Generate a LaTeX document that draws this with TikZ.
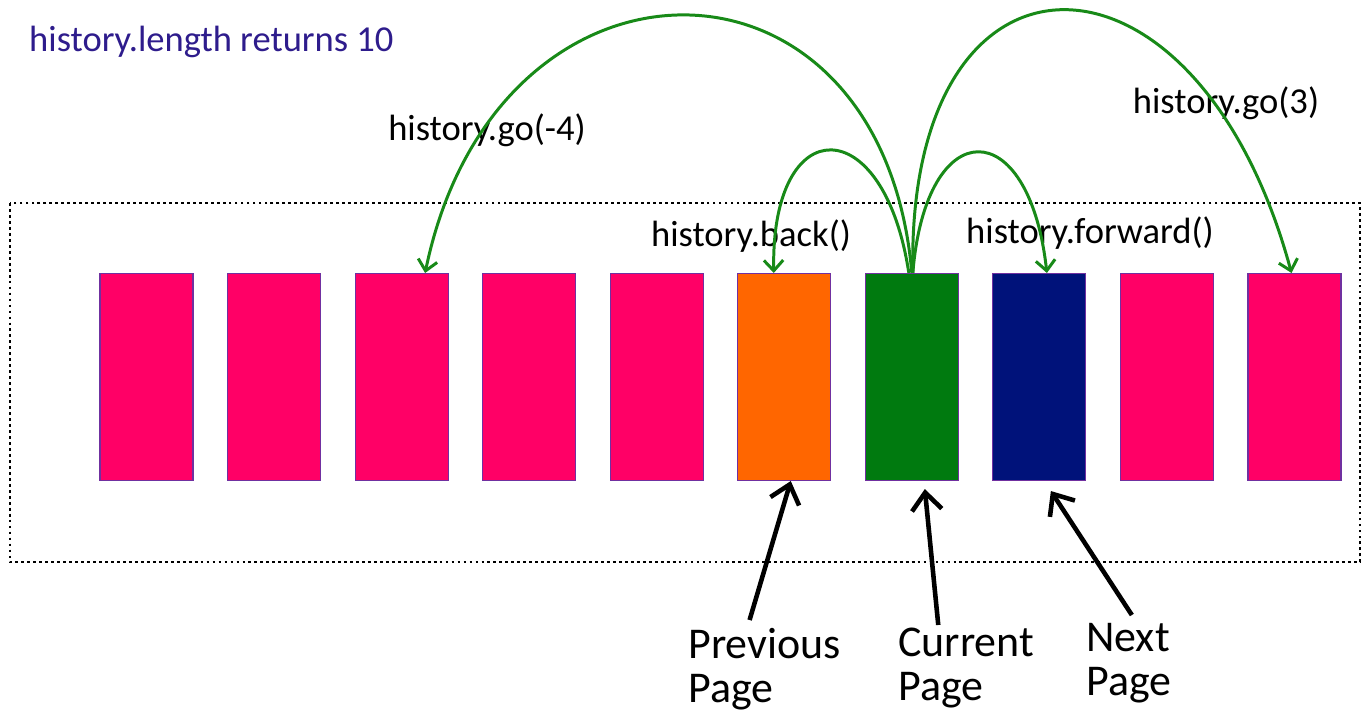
\documentclass[tikz,border=0pt]{standalone}
\usepackage{fontspec}
\setmainfont{Carlito}
\usetikzlibrary{arrows.meta, positioning}

\definecolor{pagepink}{RGB}{255,0,102}
\definecolor{pageprev}{RGB}{255,102,0}
\definecolor{pagecur}{RGB}{0,122,15}
\definecolor{pagenext}{RGB}{0,18,122}
\definecolor{pageedge}{RGB}{112,48,160}
\definecolor{jumpgreen}{RGB}{24,138,24}
\definecolor{titleblue}{RGB}{46,28,140}

\begin{document}
\begin{tikzpicture}[
    font=\fontsize{20.8}{24}\selectfont,
    page/.style={draw=pageedge, line width=0.6pt, minimum width=1.86cm, minimum height=4.14cm, inner sep=0pt},
    jump/.style={jumpgreen, line width=1.7pt, -{Straight Barb[length=6pt,width=11pt]}},
    pointer/.style={black, line width=2.6pt, -{Straight Barb[length=10pt,width=17pt]}},
    caption/.style={font=\fontsize{25}{25}\selectfont, align=left, inner sep=0pt, anchor=north west},
    node distance=0.67cm,
]
\useasboundingbox (0,0) rectangle (27.26,-14.22);

% history stack
\draw[line width=1.5pt, dash pattern=on 1.6pt off 1.8pt] (0.2,-4.06) rectangle (27.2,-11.24);

\node[page, fill=pagepink] (p1) at (2.93,-7.54) {};
\node[page, fill=pagepink, right=of p1] (p2) {};
\node[page, fill=pagepink, right=of p2] (p3) {};
\node[page, fill=pagepink, right=of p3] (p4) {};
\node[page, fill=pagepink, right=of p4] (p5) {};
\node[page, fill=pageprev, right=of p5] (prev) {};
\node[page, fill=pagecur, right=of prev] (cur) {};
\node[page, fill=pagenext, right=of cur] (next) {};
\node[page, fill=pagepink, right=of next] (p9) {};
\node[page, fill=pagepink, right=of p9] (p10) {};

% method labels
\node[anchor=west, text=titleblue] (length) at (0.46,-0.84) {history.length returns 10};
\node (gominus) at (9.74,-2.6) {history.go(-4)};
\node (back) at (15.02,-4.72) {history.back()};
\node (forward) at (21.8,-4.66) {history.forward()};
\node (goplus) at (24.52,-2.06) {history.go(3)};

% jumps from the current page
\draw[jump] (cur.north) .. controls +(-0.6,6.88) and +(1.42,6.86) .. ([xshift=0.47cm]p3.north);
\draw[jump] ([xshift=-0.06cm]cur.north) .. controls +(-0.5,3.28) and +(-0.06,3.26) .. ([xshift=-0.21cm]prev.north);
\draw[jump] ([xshift=0.02cm]cur.north) .. controls +(0.26,3.22) and +(-0.36,3.22) .. ([xshift=0.15cm]next.north);
\draw[jump] ([xshift=0.02cm]cur.north) .. controls +(-0.14,7.02) and +(-1.9,7.0) .. ([xshift=-0.06cm]p10.north);

% captions
\node[caption] (prevlbl) at (13.76,-12.56) {Previous\\Page};
\node[caption] (curlbl) at (17.96,-12.56) {Current\\Page};
\node[caption] (nextlbl) at (21.72,-12.46) {Next\\Page};

\draw[pointer] ([xshift=-0.3cm, yshift=0.16cm]prevlbl.north) -- ([xshift=0.13cm]prev.south);
\draw[pointer] ([xshift=-0.56cm, yshift=0.06cm]curlbl.north) -- ([xshift=0.26cm, yshift=-0.16cm]cur.south);
\draw[pointer] ([xshift=0.06cm, yshift=0.16cm]nextlbl.north) -- ([xshift=0.23cm, yshift=-0.2cm]next.south);
\end{tikzpicture}
\end{document}
